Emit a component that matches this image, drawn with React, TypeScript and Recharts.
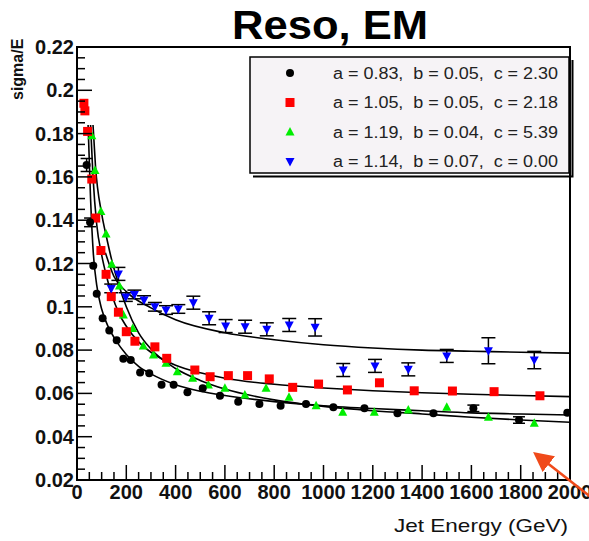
import React from 'react';
import { ComposedChart, Scatter, Line, XAxis, YAxis, ErrorBar, ReferenceArea } from 'recharts';

// ---- data ----
// [energy, sigma/E, error]
const blackPts = [
  [39, 0.1655, 0.003], [53, 0.139, 0.002], [66, 0.119], [80, 0.106], [104, 0.0947],
  [131, 0.089], [161, 0.0845], [188, 0.076], [218, 0.0754], [256, 0.0696],
  [293, 0.0693], [343, 0.064], [392, 0.064], [448, 0.0605], [510, 0.0624],
  [580, 0.0589], [654, 0.0562], [740, 0.0551], [826, 0.0543], [929, 0.0551],
  [1040, 0.0536], [1166, 0.0531], [1300, 0.0508], [1446, 0.0508], [1608, 0.0531, 0.0015],
  [1793, 0.0477, 0.0015], [1989, 0.0511],
];
const redPts = [
  [28, 0.194], [32, 0.1905], [43, 0.181], [60, 0.159], [76, 0.141], [97, 0.126],
  [118, 0.115], [139, 0.1047], [168, 0.0975], [200, 0.0885], [235, 0.0841],
  [316, 0.0815], [364, 0.0762], [478, 0.0708], [540, 0.0677], [614, 0.0682],
  [692, 0.0682], [780, 0.0667], [875, 0.0628], [980, 0.0643], [1097, 0.0616],
  [1227, 0.0649], [1368, 0.0612], [1523, 0.0611], [1692, 0.0608], [1878, 0.0589],
];
const greenPts = [
  [60, 0.179], [73, 0.163], [97, 0.144], [118, 0.1336], [141, 0.1196], [172, 0.1096],
  [188, 0.0962], [226, 0.09], [269, 0.0819], [310, 0.0777], [361, 0.0739],
  [407, 0.07], [469, 0.067], [533, 0.0639], [600, 0.0624], [681, 0.0593],
  [767, 0.0624], [860, 0.0582], [970, 0.0543], [1078, 0.0513], [1206, 0.0513],
  [1344, 0.0523], [1500, 0.0536], [1669, 0.049], [1855, 0.0462],
];
const bluePts = [
  [139, 0.1085, 0.002], [168, 0.1152, 0.003], [198, 0.1045, 0.002], [233, 0.1057, 0.002],
  [272, 0.1031, 0.002], [316, 0.1, 0.002], [361, 0.0985, 0.002], [411, 0.099, 0.002],
  [472, 0.1019, 0.003], [536, 0.0947, 0.003], [603, 0.0911, 0.003], [682, 0.0908, 0.003],
  [770, 0.0896, 0.003], [861, 0.0916, 0.003], [966, 0.0905, 0.004], [1080, 0.0708, 0.003],
  [1209, 0.0727, 0.003], [1344, 0.0711, 0.003], [1500, 0.0773, 0.003],
  [1669, 0.0797, 0.006], [1855, 0.0754, 0.004],
];

// fitted curves
const blackFit = [
  [45, 0.184], [55, 0.15], [66, 0.125], [80, 0.11], [100, 0.099], [130, 0.09],
  [160, 0.084], [200, 0.078], [250, 0.0725], [300, 0.069], [400, 0.064], [500, 0.061],
  [600, 0.059], [800, 0.0562], [1000, 0.0543], [1200, 0.053], [1400, 0.052],
  [1600, 0.051], [1800, 0.0505], [2000, 0.05],
];
const redFit = [
  [55, 0.184], [65, 0.16], [80, 0.138], [100, 0.124], [120, 0.114], [140, 0.106],
  [170, 0.097], [200, 0.091], [250, 0.0838], [300, 0.079], [400, 0.073], [500, 0.0695],
  [600, 0.067], [800, 0.0642], [1000, 0.0625], [1200, 0.0612], [1400, 0.0603],
  [1600, 0.0596], [1800, 0.059], [2000, 0.0585],
];
const greenFit = [
  [65, 0.184], [75, 0.165], [100, 0.143], [120, 0.132], [140, 0.122], [170, 0.11],
  [200, 0.1], [250, 0.088], [300, 0.0805], [400, 0.0715], [500, 0.066], [600, 0.062],
  [800, 0.057], [1000, 0.054], [1200, 0.052], [1400, 0.0505], [1600, 0.049],
  [1800, 0.0477], [2000, 0.0467],
];
const blueFit = [
  [115, 0.125], [150, 0.114], [200, 0.107], [300, 0.0995], [400, 0.094], [600, 0.088],
  [800, 0.0848], [1000, 0.0825], [1200, 0.081], [1400, 0.08], [1600, 0.0795],
  [1800, 0.079], [2000, 0.0786],
];

const legendLabels = [
  'a = 0.83,  b = 0.05,  c = 2.30',
  'a = 1.05,  b = 0.05,  c = 2.18',
  'a = 1.19,  b = 0.04,  c = 5.39',
  'a = 1.14,  b = 0.07,  c = 0.00',
];

const xTicks = Array.from({ length: 41 }, (_, i) => i * 50);
const yTicks = Array.from({ length: 41 }, (_, i) => +(0.02 + i * 0.005).toFixed(3));

const toRows = (arr: number[][]) => arr.map(([x, y, err]) => ({ x, y, err }));

const FONT = '"Liberation Sans", Arial, sans-serif';
const W = 589;
const H = 541;
const PLOT_L = 77;
const PLOT_B = 480;

const Circle = (p: any) => <circle cx={p.cx} cy={p.cy} r={4} fill="#000" />;
const Square = (p: any) => <rect x={p.cx - 4.5} y={p.cy - 4.5} width={9} height={9} fill="#ff0000" />;
const TriUp = (p: any) => (
  <polygon points={`${p.cx},${p.cy - 5} ${p.cx - 4.5},${p.cy + 3.5} ${p.cx + 4.5},${p.cy + 3.5}`} fill="#00ee00" />
);
const TriDown = (p: any) => (
  <polygon points={`${p.cx},${p.cy + 5} ${p.cx - 4.5},${p.cy - 3.5} ${p.cx + 4.5},${p.cy - 3.5}`} fill="#0000ff" />
);

const XTick = (props: any) => {
  const { x, payload } = props;
  const v = payload.value;
  const major = v % 200 === 0;
  return (
    <g>
      <line x1={x} x2={x} y1={PLOT_B} y2={PLOT_B - (major ? 15 : 8)} stroke="#000" strokeWidth={1.5} />
      {major && (
        <text x={x} y={PLOT_B + 19} textAnchor="middle" fontFamily={FONT} fontWeight="bold" fontSize={20} fill="#111">
          {v}
        </text>
      )}
    </g>
  );
};

const YTick = (props: any) => {
  const { y, payload } = props;
  const v = payload.value;
  const major = Math.round(v * 1000) % 20 === 0;
  return (
    <g>
      <line x1={PLOT_L} x2={PLOT_L + (major ? 15 : 8)} y1={y} y2={y} stroke="#000" strokeWidth={1.5} />
      {major && (
        <text x={PLOT_L - 3} y={y + 7} textAnchor="end" fontFamily={FONT} fontWeight="bold" fontSize={20} fill="#111">
          {parseFloat(v.toFixed(2)).toString()}
        </text>
      )}
    </g>
  );
};

const markers = [Circle, Square, TriUp, TriDown];

export default function App() {
  return (
    <div style={{ position: 'absolute', left: 0, top: 0, width: W, height: H, background: '#fff' }}>
      <ComposedChart width={W} height={H} margin={{ top: 47, right: 19, left: 0, bottom: 0 }}>
        <XAxis
          type="number"
          dataKey="x"
          domain={[0, 2000]}
          ticks={xTicks}
          interval={0}
          tickLine={false}
          tick={<XTick />}
          axisLine={{ stroke: '#000', strokeWidth: 2 }}
          height={61}
          allowDataOverflow
        />
        <YAxis
          type="number"
          dataKey="y"
          domain={[0.02, 0.22]}
          ticks={yTicks}
          interval={0}
          tickLine={false}
          tick={<YTick />}
          axisLine={{ stroke: '#000', strokeWidth: 2 }}
          width={77}
          allowDataOverflow
        />
        <ReferenceArea x1={0} x2={2000} y1={0.02} y2={0.22} fill="none" stroke="#000" strokeWidth={2} ifOverflow="visible" />

        {[blackFit, redFit, greenFit, blueFit].map((fit, i) => (
          <Line
            key={`fit-${i}`}
            data={toRows(fit)}
            dataKey="y"
            type="monotone"
            stroke="#000"
            strokeWidth={1.6}
            dot={false}
            activeDot={false}
            isAnimationActive={false}
          />
        ))}

        <Scatter data={toRows(greenPts)} dataKey="y" shape={TriUp} isAnimationActive={false} />
        <Scatter data={toRows(redPts)} dataKey="y" shape={Square} isAnimationActive={false} />
        <Scatter data={toRows(blackPts)} dataKey="y" shape={Circle} isAnimationActive={false}>
          <ErrorBar dataKey="err" direction="y" width={6} stroke="#000" strokeWidth={1.5} />
        </Scatter>
        <Scatter data={toRows(bluePts)} dataKey="y" shape={TriDown} isAnimationActive={false}>
          <ErrorBar dataKey="err" direction="y" width={7} stroke="#000" strokeWidth={1.5} />
        </Scatter>
      </ComposedChart>

      {/* title, legend, axis titles, annotation arrow */}
      <svg width={W} height={H} style={{ position: 'absolute', left: 0, top: 0, pointerEvents: 'none' }}>
        <defs>
          <marker id="arrowHead" markerWidth="8" markerHeight="8" refX="6" refY="4" orient="auto">
            <path d="M0,0 L8,4 L0,8 z" fill="#f04a1a" />
          </marker>
        </defs>

        <rect x={250} y={57} width={319} height={116} fill="#f6f3f6" stroke="#000" strokeWidth={1.5} />
        <polyline points="253,176.5 572.5,176.5 572.5,60" fill="none" stroke="#000" strokeWidth={2} />
        {legendLabels.map((label, i) => {
          const M = markers[i];
          const cy = 73 + i * 29.5;
          return (
            <g key={label}>
              <M cx={290} cy={cy} />
              <text
                x={333}
                y={cy + 5.5}
                fontFamily={FONT}
                fontSize={16}
                fill="#222"
                textLength={225}
                lengthAdjust="spacingAndGlyphs"
                style={{ whiteSpace: 'pre' }}
              >
                {label}
              </text>
            </g>
          );
        })}

        <text
          x={330}
          y={39}
          textAnchor="middle"
          fontFamily={FONT}
          fontWeight="bold"
          fontSize={40}
          fill="#000"
          textLength={196}
          lengthAdjust="spacingAndGlyphs"
        >
          Reso, EM
        </text>
        <text
          x={0}
          y={0}
          transform="translate(23,100) rotate(-90)"
          textAnchor="start"
          fontFamily={FONT}
          fontWeight="bold"
          fontSize={16}
          fill="#111"
        >
          sigma/E
        </text>
        <text
          x={568}
          y={532}
          textAnchor="end"
          fontFamily={FONT}
          fontSize={19}
          fill="#111"
          textLength={174}
          lengthAdjust="spacingAndGlyphs"
        >
          Jet Energy (GeV)
        </text>
        <line x1={592} y1={498} x2={537} y2={455} stroke="#f04a1a" strokeWidth={2.5} markerEnd="url(#arrowHead)" />
      </svg>
    </div>
  );
}
